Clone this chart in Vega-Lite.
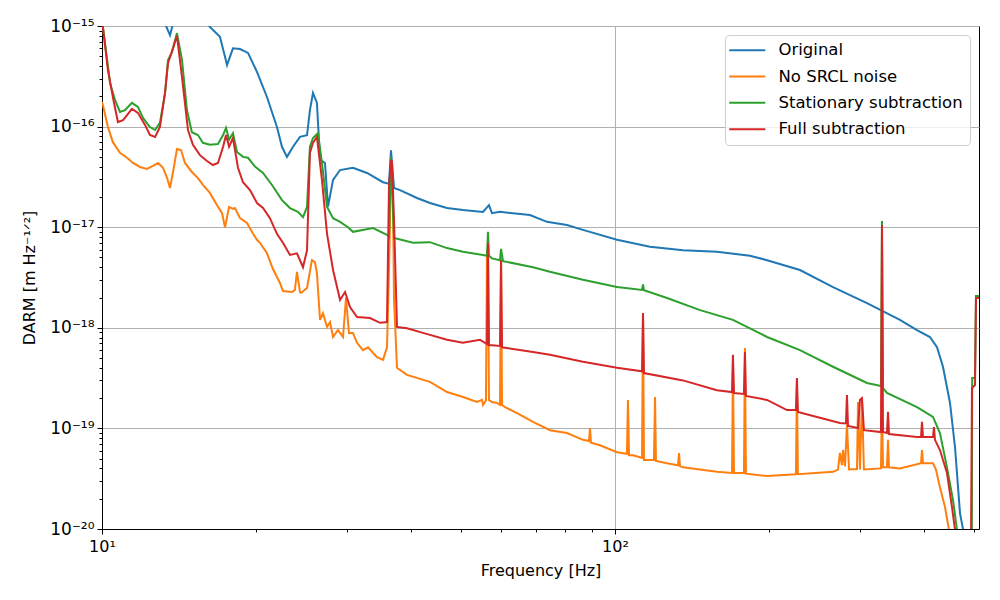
{
  "$schema": "https://vega.github.io/schema/vega-lite/v6.json",
  "width": 877,
  "height": 503,
  "autosize": "none",
  "padding": {"left": 102, "top": 26, "right": 21, "bottom": 71},
  "data": {
    "values": [
      {"series": "Original", "freq": 10.0, "asd": 2.5e-15},
      {"series": "Original", "freq": 11.86, "asd": 1.8e-15},
      {"series": "Original", "freq": 12.97, "asd": 1.2e-15},
      {"series": "Original", "freq": 13.33, "asd": 1.0e-15},
      {"series": "Original", "freq": 13.57, "asd": 8.1e-16},
      {"series": "Original", "freq": 13.75, "asd": 1.05e-15},
      {"series": "Original", "freq": 14.19, "asd": 1.4e-15},
      {"series": "Original", "freq": 15.52, "asd": 1.5e-15},
      {"series": "Original", "freq": 16.16, "asd": 1.0e-15},
      {"series": "Original", "freq": 16.98, "asd": 7.8e-16},
      {"series": "Original", "freq": 17.53, "asd": 4.1e-16},
      {"series": "Original", "freq": 18.0, "asd": 6.0e-16},
      {"series": "Original", "freq": 18.58, "asd": 5.9e-16},
      {"series": "Original", "freq": 19.26, "asd": 5.4e-16},
      {"series": "Original", "freq": 20.05, "asd": 3.5e-16},
      {"series": "Original", "freq": 20.97, "asd": 1.97e-16},
      {"series": "Original", "freq": 21.93, "asd": 9.9e-17},
      {"series": "Original", "freq": 22.43, "asd": 6.3e-17},
      {"series": "Original", "freq": 22.94, "asd": 5.0e-17},
      {"series": "Original", "freq": 23.57, "asd": 6.3e-17},
      {"series": "Original", "freq": 24.32, "asd": 7.9e-17},
      {"series": "Original", "freq": 25.1, "asd": 8.2e-17},
      {"series": "Original", "freq": 25.43, "asd": 1.46e-16},
      {"series": "Original", "freq": 25.78, "asd": 2.16e-16},
      {"series": "Original", "freq": 26.24, "asd": 1.72e-16},
      {"series": "Original", "freq": 26.61, "asd": 4.7e-17},
      {"series": "Original", "freq": 27.21, "asd": 4.35e-17},
      {"series": "Original", "freq": 27.58, "asd": 1.6e-17},
      {"series": "Original", "freq": 28.21, "asd": 2.95e-17},
      {"series": "Original", "freq": 29.11, "asd": 3.7e-17},
      {"series": "Original", "freq": 30.85, "asd": 3.9e-17},
      {"series": "Original", "freq": 32.86, "asd": 3.46e-17},
      {"series": "Original", "freq": 35.3, "asd": 2.8e-17},
      {"series": "Original", "freq": 36.26, "asd": 2.7e-17},
      {"series": "Original", "freq": 36.59, "asd": 5.8e-17},
      {"series": "Original", "freq": 37.09, "asd": 2.45e-17},
      {"series": "Original", "freq": 38.1, "asd": 2.34e-17},
      {"series": "Original", "freq": 41.11, "asd": 1.95e-17},
      {"series": "Original", "freq": 43.58, "asd": 1.74e-17},
      {"series": "Original", "freq": 47.05, "asd": 1.55e-17},
      {"series": "Original", "freq": 50.54, "asd": 1.48e-17},
      {"series": "Original", "freq": 55.3, "asd": 1.42e-17},
      {"series": "Original", "freq": 56.8, "asd": 1.66e-17},
      {"series": "Original", "freq": 57.57, "asd": 1.38e-17},
      {"series": "Original", "freq": 59.69, "asd": 1.42e-17},
      {"series": "Original", "freq": 68.29, "asd": 1.32e-17},
      {"series": "Original", "freq": 73.68, "asd": 1.13e-17},
      {"series": "Original", "freq": 80.62, "asd": 1.05e-17},
      {"series": "Original", "freq": 86.61, "asd": 9.4e-18},
      {"series": "Original", "freq": 100.9, "asd": 7.5e-18},
      {"series": "Original", "freq": 117.0, "asd": 6.4e-18},
      {"series": "Original", "freq": 135.7, "asd": 5.9e-18},
      {"series": "Original", "freq": 158.0, "asd": 5.7e-18},
      {"series": "Original", "freq": 183.3, "asd": 5.2e-18},
      {"series": "Original", "freq": 197.9, "asd": 4.7e-18},
      {"series": "Original", "freq": 229.4, "asd": 3.75e-18},
      {"series": "Original", "freq": 266.1, "asd": 2.54e-18},
      {"series": "Original", "freq": 309.9, "asd": 1.76e-18},
      {"series": "Original", "freq": 359.3, "asd": 1.2e-18},
      {"series": "Original", "freq": 387.9, "asd": 9.5e-19},
      {"series": "Original", "freq": 411.1, "asd": 8.1e-19},
      {"series": "Original", "freq": 424.4, "asd": 6.4e-19},
      {"series": "Original", "freq": 435.9, "asd": 4.1e-19},
      {"series": "Original", "freq": 449.8, "asd": 1.8e-19},
      {"series": "Original", "freq": 460.1, "asd": 6.5e-20},
      {"series": "Original", "freq": 470.5, "asd": 1.44e-20},
      {"series": "Original", "freq": 481.2, "asd": 7.8e-21},

      {"series": "No SRCL noise", "freq": 10.0, "asd": 1.76e-16},
      {"series": "No SRCL noise", "freq": 10.04, "asd": 1.64e-16},
      {"series": "No SRCL noise", "freq": 10.27, "asd": 9.9e-17},
      {"series": "No SRCL noise", "freq": 10.5, "asd": 7.0e-17},
      {"series": "No SRCL noise", "freq": 10.84, "asd": 5.5e-17},
      {"series": "No SRCL noise", "freq": 11.19, "asd": 4.9e-17},
      {"series": "No SRCL noise", "freq": 11.49, "asd": 4.35e-17},
      {"series": "No SRCL noise", "freq": 11.86, "asd": 3.97e-17},
      {"series": "No SRCL noise", "freq": 12.24, "asd": 3.8e-17},
      {"series": "No SRCL noise", "freq": 12.57, "asd": 4.06e-17},
      {"series": "No SRCL noise", "freq": 12.86, "asd": 4.35e-17},
      {"series": "No SRCL noise", "freq": 13.15, "asd": 3.9e-17},
      {"series": "No SRCL noise", "freq": 13.39, "asd": 3.1e-17},
      {"series": "No SRCL noise", "freq": 13.57, "asd": 2.45e-17},
      {"series": "No SRCL noise", "freq": 13.81, "asd": 3.97e-17},
      {"series": "No SRCL noise", "freq": 14.0, "asd": 6.0e-17},
      {"series": "No SRCL noise", "freq": 14.26, "asd": 5.85e-17},
      {"series": "No SRCL noise", "freq": 14.51, "asd": 4.35e-17},
      {"series": "No SRCL noise", "freq": 14.97, "asd": 3.54e-17},
      {"series": "No SRCL noise", "freq": 15.38, "asd": 3.08e-17},
      {"series": "No SRCL noise", "freq": 15.73, "asd": 2.63e-17},
      {"series": "No SRCL noise", "freq": 16.23, "asd": 2.19e-17},
      {"series": "No SRCL noise", "freq": 16.75, "asd": 1.66e-17},
      {"series": "No SRCL noise", "freq": 17.14, "asd": 1.38e-17},
      {"series": "No SRCL noise", "freq": 17.37, "asd": 1.0e-17},
      {"series": "No SRCL noise", "freq": 17.69, "asd": 1.59e-17},
      {"series": "No SRCL noise", "freq": 18.0, "asd": 1.52e-17},
      {"series": "No SRCL noise", "freq": 18.16, "asd": 1.55e-17},
      {"series": "No SRCL noise", "freq": 18.58, "asd": 1.23e-17},
      {"series": "No SRCL noise", "freq": 19.17, "asd": 1.1e-17},
      {"series": "No SRCL noise", "freq": 19.7, "asd": 8.6e-18},
      {"series": "No SRCL noise", "freq": 20.05, "asd": 7.5e-18},
      {"series": "No SRCL noise", "freq": 20.32, "asd": 7.0e-18},
      {"series": "No SRCL noise", "freq": 20.97, "asd": 5.5e-18},
      {"series": "No SRCL noise", "freq": 21.54, "asd": 3.84e-18},
      {"series": "No SRCL noise", "freq": 22.23, "asd": 2.79e-18},
      {"series": "No SRCL noise", "freq": 22.53, "asd": 2.32e-18},
      {"series": "No SRCL noise", "freq": 23.46, "asd": 2.27e-18},
      {"series": "No SRCL noise", "freq": 23.77, "asd": 2.38e-18},
      {"series": "No SRCL noise", "freq": 23.99, "asd": 3.6e-18},
      {"series": "No SRCL noise", "freq": 24.32, "asd": 2.27e-18},
      {"series": "No SRCL noise", "freq": 24.43, "asd": 2.22e-18},
      {"series": "No SRCL noise", "freq": 25.1, "asd": 2.49e-18},
      {"series": "No SRCL noise", "freq": 25.66, "asd": 4.7e-18},
      {"series": "No SRCL noise", "freq": 26.01, "asd": 4.5e-18},
      {"series": "No SRCL noise", "freq": 26.24, "asd": 3.5e-18},
      {"series": "No SRCL noise", "freq": 26.61, "asd": 1.2e-18},
      {"series": "No SRCL noise", "freq": 26.96, "asd": 1.4e-18},
      {"series": "No SRCL noise", "freq": 27.46, "asd": 1.02e-18},
      {"series": "No SRCL noise", "freq": 27.83, "asd": 1.14e-18},
      {"series": "No SRCL noise", "freq": 28.21, "asd": 8.1e-19},
      {"series": "No SRCL noise", "freq": 28.84, "asd": 9.5e-19},
      {"series": "No SRCL noise", "freq": 29.5, "asd": 8.1e-19},
      {"series": "No SRCL noise", "freq": 29.9, "asd": 1.98e-18},
      {"series": "No SRCL noise", "freq": 30.3, "asd": 8.9e-19},
      {"series": "No SRCL noise", "freq": 30.85, "asd": 8.9e-19},
      {"series": "No SRCL noise", "freq": 31.41, "asd": 7.1e-19},
      {"series": "No SRCL noise", "freq": 32.27, "asd": 6.0e-19},
      {"series": "No SRCL noise", "freq": 33.0, "asd": 6.4e-19},
      {"series": "No SRCL noise", "freq": 34.36, "asd": 5.1e-19},
      {"series": "No SRCL noise", "freq": 35.3, "asd": 4.8e-19},
      {"series": "No SRCL noise", "freq": 35.94, "asd": 6.4e-19},
      {"series": "No SRCL noise", "freq": 36.26, "asd": 3.75e-18},
      {"series": "No SRCL noise", "freq": 36.59, "asd": 3.7e-17},
      {"series": "No SRCL noise", "freq": 36.92, "asd": 1.86e-17},
      {"series": "No SRCL noise", "freq": 37.09, "asd": 1.9e-18},
      {"series": "No SRCL noise", "freq": 37.59, "asd": 4.0e-19},
      {"series": "No SRCL noise", "freq": 39.31, "asd": 3.4e-19},
      {"series": "No SRCL noise", "freq": 43.58, "asd": 2.9e-19},
      {"series": "No SRCL noise", "freq": 47.05, "asd": 2.3e-19},
      {"series": "No SRCL noise", "freq": 50.54, "asd": 2.05e-19},
      {"series": "No SRCL noise", "freq": 53.83, "asd": 1.83e-19},
      {"series": "No SRCL noise", "freq": 55.05, "asd": 1.92e-19},
      {"series": "No SRCL noise", "freq": 55.3, "asd": 1.71e-19},
      {"series": "No SRCL noise", "freq": 56.04, "asd": 1.9e-19},
      {"series": "No SRCL noise", "freq": 56.3, "asd": 5.9e-18},
      {"series": "No SRCL noise", "freq": 56.55, "asd": 5.3e-18},
      {"series": "No SRCL noise", "freq": 56.8, "asd": 1.92e-19},
      {"series": "No SRCL noise", "freq": 57.57, "asd": 1.83e-19},
      {"series": "No SRCL noise", "freq": 58.88, "asd": 1.79e-19},
      {"series": "No SRCL noise", "freq": 59.69, "asd": 1.71e-19},
      {"series": "No SRCL noise", "freq": 59.96, "asd": 4.9e-18},
      {"series": "No SRCL noise", "freq": 60.23, "asd": 1.71e-19},
      {"series": "No SRCL noise", "freq": 61.04, "asd": 1.63e-19},
      {"series": "No SRCL noise", "freq": 64.42, "asd": 1.42e-19},
      {"series": "No SRCL noise", "freq": 69.21, "asd": 1.16e-19},
      {"series": "No SRCL noise", "freq": 74.68, "asd": 9.6e-20},
      {"series": "No SRCL noise", "freq": 80.62, "asd": 9.0e-20},
      {"series": "No SRCL noise", "freq": 86.61, "asd": 7.7e-20},
      {"series": "No SRCL noise", "freq": 88.99, "asd": 7.5e-20},
      {"series": "No SRCL noise", "freq": 89.39, "asd": 1.01e-19},
      {"series": "No SRCL noise", "freq": 89.79, "asd": 7.2e-20},
      {"series": "No SRCL noise", "freq": 93.49, "asd": 6.8e-20},
      {"series": "No SRCL noise", "freq": 100.9, "asd": 5.8e-20},
      {"series": "No SRCL noise", "freq": 105.5, "asd": 5.6e-20},
      {"series": "No SRCL noise", "freq": 106.0, "asd": 1.92e-19},
      {"series": "No SRCL noise", "freq": 106.5, "asd": 5.4e-20},
      {"series": "No SRCL noise", "freq": 108.4, "asd": 5.4e-20},
      {"series": "No SRCL noise", "freq": 112.9, "asd": 5.1e-20},
      {"series": "No SRCL noise", "freq": 113.4, "asd": 1.3e-18},
      {"series": "No SRCL noise", "freq": 113.9, "asd": 4.85e-20},
      {"series": "No SRCL noise", "freq": 119.1, "asd": 4.85e-20},
      {"series": "No SRCL noise", "freq": 119.7, "asd": 2.05e-19},
      {"series": "No SRCL noise", "freq": 120.2, "asd": 4.75e-20},
      {"series": "No SRCL noise", "freq": 126.3, "asd": 4.5e-20},
      {"series": "No SRCL noise", "freq": 132.7, "asd": 4.3e-20},
      {"series": "No SRCL noise", "freq": 133.3, "asd": 5.7e-20},
      {"series": "No SRCL noise", "freq": 133.9, "asd": 4.2e-20},
      {"series": "No SRCL noise", "freq": 135.7, "asd": 4.1e-20},
      {"series": "No SRCL noise", "freq": 158.0, "asd": 3.7e-20},
      {"series": "No SRCL noise", "freq": 169.1, "asd": 3.6e-20},
      {"series": "No SRCL noise", "freq": 169.8, "asd": 4.6e-19},
      {"series": "No SRCL noise", "freq": 170.6, "asd": 3.6e-20},
      {"series": "No SRCL noise", "freq": 178.4, "asd": 3.6e-20},
      {"series": "No SRCL noise", "freq": 179.2, "asd": 6.3e-19},
      {"series": "No SRCL noise", "freq": 180.0, "asd": 3.55e-20},
      {"series": "No SRCL noise", "freq": 197.9, "asd": 3.36e-20},
      {"series": "No SRCL noise", "freq": 225.3, "asd": 3.5e-20},
      {"series": "No SRCL noise", "freq": 226.3, "asd": 2.7e-19},
      {"series": "No SRCL noise", "freq": 227.3, "asd": 3.5e-20},
      {"series": "No SRCL noise", "freq": 266.1, "asd": 3.7e-20},
      {"series": "No SRCL noise", "freq": 272.1, "asd": 3.9e-20},
      {"series": "No SRCL noise", "freq": 274.5, "asd": 5.7e-20},
      {"series": "No SRCL noise", "freq": 277.0, "asd": 4.3e-20},
      {"series": "No SRCL noise", "freq": 278.3, "asd": 6.1e-20},
      {"series": "No SRCL noise", "freq": 280.8, "asd": 4.2e-20},
      {"series": "No SRCL noise", "freq": 283.3, "asd": 1.08e-19},
      {"series": "No SRCL noise", "freq": 285.9, "asd": 3.9e-20},
      {"series": "No SRCL noise", "freq": 296.3, "asd": 3.95e-20},
      {"series": "No SRCL noise", "freq": 297.7, "asd": 1.83e-19},
      {"series": "No SRCL noise", "freq": 300.3, "asd": 3.9e-20},
      {"series": "No SRCL noise", "freq": 303.0, "asd": 1.92e-19},
      {"series": "No SRCL noise", "freq": 305.7, "asd": 3.9e-20},
      {"series": "No SRCL noise", "freq": 330.0, "asd": 4.0e-20},
      {"series": "No SRCL noise", "freq": 331.5, "asd": 1.9e-19},
      {"series": "No SRCL noise", "freq": 333.0, "asd": 4.1e-20},
      {"series": "No SRCL noise", "freq": 339.0, "asd": 4.1e-20},
      {"series": "No SRCL noise", "freq": 340.6, "asd": 7.7e-20},
      {"series": "No SRCL noise", "freq": 342.1, "asd": 4.1e-20},
      {"series": "No SRCL noise", "freq": 359.3, "asd": 4.0e-20},
      {"series": "No SRCL noise", "freq": 395.0, "asd": 4.5e-20},
      {"series": "No SRCL noise", "freq": 396.7, "asd": 6.1e-20},
      {"series": "No SRCL noise", "freq": 398.5, "asd": 4.5e-20},
      {"series": "No SRCL noise", "freq": 416.8, "asd": 4.5e-20},
      {"series": "No SRCL noise", "freq": 422.4, "asd": 3.9e-20},
      {"series": "No SRCL noise", "freq": 430.0, "asd": 2.6e-20},
      {"series": "No SRCL noise", "freq": 439.9, "asd": 1.65e-20},
      {"series": "No SRCL noise", "freq": 447.8, "asd": 9.8e-21},
      {"series": "No SRCL noise", "freq": 453.9, "asd": 6e-21},

      {"series": "Stationary subtraction", "freq": 10.0, "asd": 1.1e-15},
      {"series": "Stationary subtraction", "freq": 10.04, "asd": 9.8e-16},
      {"series": "Stationary subtraction", "freq": 10.37, "asd": 2.7e-16},
      {"series": "Stationary subtraction", "freq": 10.6, "asd": 1.84e-16},
      {"series": "Stationary subtraction", "freq": 10.84, "asd": 1.4e-16},
      {"series": "Stationary subtraction", "freq": 11.09, "asd": 1.46e-16},
      {"series": "Stationary subtraction", "freq": 11.44, "asd": 1.72e-16},
      {"series": "Stationary subtraction", "freq": 11.75, "asd": 1.57e-16},
      {"series": "Stationary subtraction", "freq": 12.02, "asd": 1.22e-16},
      {"series": "Stationary subtraction", "freq": 12.4, "asd": 9.9e-17},
      {"series": "Stationary subtraction", "freq": 12.69, "asd": 9.25e-17},
      {"series": "Stationary subtraction", "freq": 12.97, "asd": 1.09e-16},
      {"series": "Stationary subtraction", "freq": 13.27, "asd": 2.16e-16},
      {"series": "Stationary subtraction", "freq": 13.45, "asd": 4.6e-16},
      {"series": "Stationary subtraction", "freq": 13.69, "asd": 5.5e-16},
      {"series": "Stationary subtraction", "freq": 14.0, "asd": 8.5e-16},
      {"series": "Stationary subtraction", "freq": 14.32, "asd": 4.6e-16},
      {"series": "Stationary subtraction", "freq": 14.64, "asd": 1.46e-16},
      {"series": "Stationary subtraction", "freq": 14.97, "asd": 8.8e-17},
      {"series": "Stationary subtraction", "freq": 15.38, "asd": 8.25e-17},
      {"series": "Stationary subtraction", "freq": 15.73, "asd": 6.9e-17},
      {"series": "Stationary subtraction", "freq": 16.23, "asd": 6.6e-17},
      {"series": "Stationary subtraction", "freq": 16.83, "asd": 6.7e-17},
      {"series": "Stationary subtraction", "freq": 17.22, "asd": 8.25e-17},
      {"series": "Stationary subtraction", "freq": 17.45, "asd": 9.7e-17},
      {"series": "Stationary subtraction", "freq": 17.69, "asd": 7.4e-17},
      {"series": "Stationary subtraction", "freq": 18.0, "asd": 8.6e-17},
      {"series": "Stationary subtraction", "freq": 18.33, "asd": 5.6e-17},
      {"series": "Stationary subtraction", "freq": 18.83, "asd": 5.0e-17},
      {"series": "Stationary subtraction", "freq": 19.26, "asd": 4.9e-17},
      {"series": "Stationary subtraction", "freq": 19.87, "asd": 4.0e-17},
      {"series": "Stationary subtraction", "freq": 20.6, "asd": 3.46e-17},
      {"series": "Stationary subtraction", "freq": 21.45, "asd": 2.63e-17},
      {"series": "Stationary subtraction", "freq": 22.43, "asd": 1.86e-17},
      {"series": "Stationary subtraction", "freq": 23.25, "asd": 1.55e-17},
      {"series": "Stationary subtraction", "freq": 24.1, "asd": 1.42e-17},
      {"series": "Stationary subtraction", "freq": 24.65, "asd": 1.26e-17},
      {"series": "Stationary subtraction", "freq": 25.1, "asd": 1.59e-17},
      {"series": "Stationary subtraction", "freq": 25.43, "asd": 6.3e-17},
      {"series": "Stationary subtraction", "freq": 25.78, "asd": 7.7e-17},
      {"series": "Stationary subtraction", "freq": 26.36, "asd": 8.6e-17},
      {"series": "Stationary subtraction", "freq": 26.84, "asd": 4.35e-17},
      {"series": "Stationary subtraction", "freq": 27.46, "asd": 1.59e-17},
      {"series": "Stationary subtraction", "freq": 28.21, "asd": 1.23e-17},
      {"series": "Stationary subtraction", "freq": 29.11, "asd": 1.13e-17},
      {"series": "Stationary subtraction", "freq": 30.17, "asd": 1.0e-17},
      {"series": "Stationary subtraction", "freq": 30.85, "asd": 9.0e-18},
      {"series": "Stationary subtraction", "freq": 33.75, "asd": 9.8e-18},
      {"series": "Stationary subtraction", "freq": 35.94, "asd": 8.4e-18},
      {"series": "Stationary subtraction", "freq": 36.26, "asd": 8.0e-18},
      {"series": "Stationary subtraction", "freq": 36.59, "asd": 5.0e-17},
      {"series": "Stationary subtraction", "freq": 37.09, "asd": 7.8e-18},
      {"series": "Stationary subtraction", "freq": 40.39, "asd": 7.0e-18},
      {"series": "Stationary subtraction", "freq": 43.58, "asd": 7.1e-18},
      {"series": "Stationary subtraction", "freq": 47.05, "asd": 6.2e-18},
      {"series": "Stationary subtraction", "freq": 50.54, "asd": 5.7e-18},
      {"series": "Stationary subtraction", "freq": 55.3, "asd": 5.3e-18},
      {"series": "Stationary subtraction", "freq": 56.3, "asd": 5.2e-18},
      {"series": "Stationary subtraction", "freq": 56.55, "asd": 9.0e-18},
      {"series": "Stationary subtraction", "freq": 56.8, "asd": 5.2e-18},
      {"series": "Stationary subtraction", "freq": 57.57, "asd": 4.9e-18},
      {"series": "Stationary subtraction", "freq": 59.69, "asd": 4.7e-18},
      {"series": "Stationary subtraction", "freq": 59.96, "asd": 6.1e-18},
      {"series": "Stationary subtraction", "freq": 60.5, "asd": 4.6e-18},
      {"series": "Stationary subtraction", "freq": 69.21, "asd": 4.0e-18},
      {"series": "Stationary subtraction", "freq": 74.68, "asd": 3.6e-18},
      {"series": "Stationary subtraction", "freq": 86.61, "asd": 3.0e-18},
      {"series": "Stationary subtraction", "freq": 100.9, "asd": 2.54e-18},
      {"series": "Stationary subtraction", "freq": 112.9, "asd": 2.38e-18},
      {"series": "Stationary subtraction", "freq": 113.4, "asd": 2.7e-18},
      {"series": "Stationary subtraction", "freq": 113.9, "asd": 2.36e-18},
      {"series": "Stationary subtraction", "freq": 126.3, "asd": 1.98e-18},
      {"series": "Stationary subtraction", "freq": 146.5, "asd": 1.5e-18},
      {"series": "Stationary subtraction", "freq": 169.8, "asd": 1.2e-18},
      {"series": "Stationary subtraction", "freq": 197.9, "asd": 8.1e-19},
      {"series": "Stationary subtraction", "freq": 229.4, "asd": 6.0e-19},
      {"series": "Stationary subtraction", "freq": 266.1, "asd": 4.1e-19},
      {"series": "Stationary subtraction", "freq": 309.9, "asd": 2.83e-19},
      {"series": "Stationary subtraction", "freq": 330.0, "asd": 2.64e-19},
      {"series": "Stationary subtraction", "freq": 331.5, "asd": 1.15e-17},
      {"series": "Stationary subtraction", "freq": 333.0, "asd": 2.52e-19},
      {"series": "Stationary subtraction", "freq": 339.0, "asd": 2.25e-19},
      {"series": "Stationary subtraction", "freq": 387.9, "asd": 1.63e-19},
      {"series": "Stationary subtraction", "freq": 416.8, "asd": 1.3e-19},
      {"series": "Stationary subtraction", "freq": 430.0, "asd": 9.0e-20},
      {"series": "Stationary subtraction", "freq": 443.8, "asd": 4.1e-20},
      {"series": "Stationary subtraction", "freq": 456.0, "asd": 1.94e-20},
      {"series": "Stationary subtraction", "freq": 464.2, "asd": 9.8e-21},
      {"series": "Stationary subtraction", "freq": 470.5, "asd": 7e-21},
      {"series": "Stationary subtraction", "freq": 496.0, "asd": 6e-21},
      {"series": "Stationary subtraction", "freq": 497.0, "asd": 3.17e-19},
      {"series": "Stationary subtraction", "freq": 503.3, "asd": 3.17e-19},
      {"series": "Stationary subtraction", "freq": 505.5, "asd": 2.07e-18},
      {"series": "Stationary subtraction", "freq": 512.4, "asd": 2.07e-18},

      {"series": "Full subtraction", "freq": 10.0, "asd": 1.1e-15},
      {"series": "Full subtraction", "freq": 10.04, "asd": 9.8e-16},
      {"series": "Full subtraction", "freq": 10.27, "asd": 3.65e-16},
      {"series": "Full subtraction", "freq": 10.5, "asd": 1.97e-16},
      {"series": "Full subtraction", "freq": 10.74, "asd": 1.11e-16},
      {"series": "Full subtraction", "freq": 10.99, "asd": 1.16e-16},
      {"series": "Full subtraction", "freq": 11.44, "asd": 1.5e-16},
      {"series": "Full subtraction", "freq": 11.75, "asd": 1.37e-16},
      {"series": "Full subtraction", "freq": 12.13, "asd": 1.04e-16},
      {"series": "Full subtraction", "freq": 12.4, "asd": 8.25e-17},
      {"series": "Full subtraction", "freq": 12.69, "asd": 7.9e-17},
      {"series": "Full subtraction", "freq": 12.97, "asd": 9.9e-17},
      {"series": "Full subtraction", "freq": 13.27, "asd": 2.16e-16},
      {"series": "Full subtraction", "freq": 13.45, "asd": 4.3e-16},
      {"series": "Full subtraction", "freq": 13.75, "asd": 6.0e-16},
      {"series": "Full subtraction", "freq": 14.0, "asd": 8.0e-16},
      {"series": "Full subtraction", "freq": 14.32, "asd": 3.1e-16},
      {"series": "Full subtraction", "freq": 14.71, "asd": 9.25e-17},
      {"series": "Full subtraction", "freq": 15.04, "asd": 6.6e-17},
      {"series": "Full subtraction", "freq": 15.52, "asd": 5.2e-17},
      {"series": "Full subtraction", "freq": 16.02, "asd": 4.55e-17},
      {"series": "Full subtraction", "freq": 16.45, "asd": 4.15e-17},
      {"series": "Full subtraction", "freq": 16.83, "asd": 4.35e-17},
      {"series": "Full subtraction", "freq": 17.22, "asd": 6.3e-17},
      {"series": "Full subtraction", "freq": 17.45, "asd": 8.25e-17},
      {"series": "Full subtraction", "freq": 17.69, "asd": 6.3e-17},
      {"series": "Full subtraction", "freq": 18.0, "asd": 7.7e-17},
      {"series": "Full subtraction", "freq": 18.41, "asd": 3.9e-17},
      {"series": "Full subtraction", "freq": 18.83, "asd": 2.8e-17},
      {"series": "Full subtraction", "freq": 19.43, "asd": 2.34e-17},
      {"series": "Full subtraction", "freq": 20.05, "asd": 1.74e-17},
      {"series": "Full subtraction", "freq": 20.6, "asd": 1.55e-17},
      {"series": "Full subtraction", "freq": 21.25, "asd": 1.23e-17},
      {"series": "Full subtraction", "freq": 21.93, "asd": 8.6e-18},
      {"series": "Full subtraction", "freq": 22.53, "asd": 7.0e-18},
      {"series": "Full subtraction", "freq": 23.25, "asd": 5.3e-18},
      {"series": "Full subtraction", "freq": 23.99, "asd": 5.5e-18},
      {"series": "Full subtraction", "freq": 24.65, "asd": 4.0e-18},
      {"series": "Full subtraction", "freq": 25.1, "asd": 5.9e-18},
      {"series": "Full subtraction", "freq": 25.43, "asd": 5.5e-17},
      {"series": "Full subtraction", "freq": 25.78, "asd": 6.9e-17},
      {"series": "Full subtraction", "freq": 26.24, "asd": 7.9e-17},
      {"series": "Full subtraction", "freq": 26.84, "asd": 2.95e-17},
      {"series": "Full subtraction", "freq": 27.46, "asd": 8.6e-18},
      {"series": "Full subtraction", "freq": 28.21, "asd": 3.75e-18},
      {"series": "Full subtraction", "freq": 29.11, "asd": 1.89e-18},
      {"series": "Full subtraction", "freq": 29.77, "asd": 2.27e-18},
      {"series": "Full subtraction", "freq": 30.44, "asd": 1.61e-18},
      {"series": "Full subtraction", "freq": 31.41, "asd": 1.28e-18},
      {"series": "Full subtraction", "freq": 33.3, "asd": 1.25e-18},
      {"series": "Full subtraction", "freq": 34.83, "asd": 1.12e-18},
      {"series": "Full subtraction", "freq": 35.94, "asd": 1.14e-18},
      {"series": "Full subtraction", "freq": 36.26, "asd": 2.5e-17},
      {"series": "Full subtraction", "freq": 36.59, "asd": 4.7e-17},
      {"series": "Full subtraction", "freq": 36.75, "asd": 4.45e-17},
      {"series": "Full subtraction", "freq": 37.09, "asd": 1.18e-17},
      {"series": "Full subtraction", "freq": 37.59, "asd": 1.02e-18},
      {"series": "Full subtraction", "freq": 39.31, "asd": 9.9e-19},
      {"series": "Full subtraction", "freq": 42.23, "asd": 8.9e-19},
      {"series": "Full subtraction", "freq": 47.05, "asd": 7.6e-19},
      {"series": "Full subtraction", "freq": 50.54, "asd": 7.1e-19},
      {"series": "Full subtraction", "freq": 54.56, "asd": 7.6e-19},
      {"series": "Full subtraction", "freq": 56.3, "asd": 6.9e-19},
      {"series": "Full subtraction", "freq": 56.55, "asd": 7.0e-18},
      {"series": "Full subtraction", "freq": 56.8, "asd": 6.7e-19},
      {"series": "Full subtraction", "freq": 57.57, "asd": 6.7e-19},
      {"series": "Full subtraction", "freq": 59.69, "asd": 6.6e-19},
      {"series": "Full subtraction", "freq": 59.96, "asd": 4.7e-18},
      {"series": "Full subtraction", "freq": 60.23, "asd": 6.4e-19},
      {"series": "Full subtraction", "freq": 69.21, "asd": 5.75e-19},
      {"series": "Full subtraction", "freq": 74.68, "asd": 5.4e-19},
      {"series": "Full subtraction", "freq": 86.61, "asd": 4.6e-19},
      {"series": "Full subtraction", "freq": 100.9, "asd": 4.0e-19},
      {"series": "Full subtraction", "freq": 112.9, "asd": 3.7e-19},
      {"series": "Full subtraction", "freq": 113.4, "asd": 1.4e-18},
      {"series": "Full subtraction", "freq": 113.9, "asd": 3.55e-19},
      {"series": "Full subtraction", "freq": 135.7, "asd": 3.0e-19},
      {"series": "Full subtraction", "freq": 158.0, "asd": 2.4e-19},
      {"series": "Full subtraction", "freq": 169.1, "asd": 2.3e-19},
      {"series": "Full subtraction", "freq": 169.8, "asd": 5.4e-19},
      {"series": "Full subtraction", "freq": 170.6, "asd": 2.25e-19},
      {"series": "Full subtraction", "freq": 178.4, "asd": 2.2e-19},
      {"series": "Full subtraction", "freq": 179.2, "asd": 5.75e-19},
      {"series": "Full subtraction", "freq": 180.0, "asd": 2.1e-19},
      {"series": "Full subtraction", "freq": 197.9, "asd": 1.92e-19},
      {"series": "Full subtraction", "freq": 216.4, "asd": 1.52e-19},
      {"series": "Full subtraction", "freq": 225.3, "asd": 1.52e-19},
      {"series": "Full subtraction", "freq": 226.3, "asd": 3.17e-19},
      {"series": "Full subtraction", "freq": 227.3, "asd": 1.46e-19},
      {"series": "Full subtraction", "freq": 247.6, "asd": 1.3e-19},
      {"series": "Full subtraction", "freq": 274.5, "asd": 1.13e-19},
      {"series": "Full subtraction", "freq": 282.0, "asd": 1.12e-19},
      {"series": "Full subtraction", "freq": 283.3, "asd": 2.15e-19},
      {"series": "Full subtraction", "freq": 284.6, "asd": 1.06e-19},
      {"series": "Full subtraction", "freq": 297.7, "asd": 1.01e-19},
      {"series": "Full subtraction", "freq": 300.3, "asd": 1.92e-19},
      {"series": "Full subtraction", "freq": 303.0, "asd": 2.0e-19},
      {"series": "Full subtraction", "freq": 305.7, "asd": 9.6e-20},
      {"series": "Full subtraction", "freq": 330.0, "asd": 9.2e-20},
      {"series": "Full subtraction", "freq": 331.5, "asd": 1.05e-17},
      {"series": "Full subtraction", "freq": 333.0, "asd": 9.2e-20},
      {"series": "Full subtraction", "freq": 339.0, "asd": 9.0e-20},
      {"series": "Full subtraction", "freq": 340.6, "asd": 1.46e-19},
      {"series": "Full subtraction", "freq": 342.1, "asd": 8.8e-20},
      {"series": "Full subtraction", "freq": 387.9, "asd": 8.2e-20},
      {"series": "Full subtraction", "freq": 395.0, "asd": 8.2e-20},
      {"series": "Full subtraction", "freq": 396.7, "asd": 1.16e-19},
      {"series": "Full subtraction", "freq": 398.5, "asd": 8.2e-20},
      {"series": "Full subtraction", "freq": 416.8, "asd": 8.2e-20},
      {"series": "Full subtraction", "freq": 418.6, "asd": 1.03e-19},
      {"series": "Full subtraction", "freq": 420.5, "asd": 7.7e-20},
      {"series": "Full subtraction", "freq": 430.0, "asd": 6.1e-20},
      {"series": "Full subtraction", "freq": 443.8, "asd": 3.6e-20},
      {"series": "Full subtraction", "freq": 453.9, "asd": 1.65e-20},
      {"series": "Full subtraction", "freq": 460.1, "asd": 9.8e-21},
      {"series": "Full subtraction", "freq": 466.0, "asd": 6e-21},
      {"series": "Full subtraction", "freq": 494.3, "asd": 6e-21},
      {"series": "Full subtraction", "freq": 496.5, "asd": 2.52e-19},
      {"series": "Full subtraction", "freq": 503.3, "asd": 2.7e-19},
      {"series": "Full subtraction", "freq": 505.5, "asd": 1.98e-18},
      {"series": "Full subtraction", "freq": 512.4, "asd": 1.98e-18}
    ]
  },
  "mark": {"type": "line", "clip": true, "strokeWidth": 2},
  "encoding": {
    "x": {
      "field": "freq",
      "type": "quantitative",
      "title": "Frequency [Hz]",
      "scale": {"type": "log", "domain": [10, 512.4], "nice": false},
      "axis": {
        "values": [10, 20, 30, 40, 50, 60, 70, 80, 90, 100, 200, 300, 400, 500],
        "labelExpr": "datum.value == 10 ? '10¹' : datum.value == 100 ? '10²' : ''",
        "tickSize": {"condition": {"test": "datum.value == 10 || datum.value == 100", "value": 5}, "value": 3},
        "gridOpacity": {"condition": {"test": "datum.value == 10 || datum.value == 100", "value": 1}, "value": 0},
        "labelFlush": false,
        "labelPadding": 4,
        "titlePadding": 8
      }
    },
    "y": {
      "field": "asd",
      "type": "quantitative",
      "title": "DARM [m Hz⁻¹ᐟ²]",
      "scale": {"type": "log", "domain": [1e-20, 1e-15], "nice": false},
      "axis": {
        "values": [1e-20, 2e-20, 3e-20, 4e-20, 5e-20, 6e-20, 7e-20, 8e-20, 9e-20,
                   1e-19, 2e-19, 3e-19, 4e-19, 5e-19, 6e-19, 7e-19, 8e-19, 9e-19,
                   1e-18, 2e-18, 3e-18, 4e-18, 5e-18, 6e-18, 7e-18, 8e-18, 9e-18,
                   1e-17, 2e-17, 3e-17, 4e-17, 5e-17, 6e-17, 7e-17, 8e-17, 9e-17,
                   1e-16, 2e-16, 3e-16, 4e-16, 5e-16, 6e-16, 7e-16, 8e-16, 9e-16, 1e-15],
        "labelExpr": "datum.value == 1e-15 ? '10⁻¹⁵' : datum.value == 1e-16 ? '10⁻¹⁶' : datum.value == 1e-17 ? '10⁻¹⁷' : datum.value == 1e-18 ? '10⁻¹⁸' : datum.value == 1e-19 ? '10⁻¹⁹' : datum.value == 1e-20 ? '10⁻²⁰' : ''",
        "tickSize": {"condition": {"test": "indexof([1e-20, 1e-19, 1e-18, 1e-17, 1e-16, 1e-15], datum.value) >= 0", "value": 5}, "value": 3},
        "gridOpacity": {"condition": {"test": "indexof([1e-20, 1e-19, 1e-18, 1e-17, 1e-16, 1e-15], datum.value) >= 0", "value": 1}, "value": 0},
        "labelFlush": false,
        "labelFontSize": 17,
        "labelPadding": 3,
        "titlePadding": 12
      }
    },
    "color": {
      "field": "series",
      "type": "nominal",
      "sort": null,
      "scale": {
        "domain": ["Original", "No SRCL noise", "Stationary subtraction", "Full subtraction"],
        "range": ["#1f77b4", "#ff7f0e", "#2ca02c", "#d62728"]
      },
      "legend": {
        "title": null,
        "orient": "top-right",
        "offset": 9,
        "fillColor": "rgba(255,255,255,0.8)",
        "strokeColor": "#cccccc",
        "cornerRadius": 4,
        "padding": 7,
        "symbolType": "M-1.83,0H4.17",
        "symbolSize": 144,
        "symbolStrokeWidth": 2,
        "labelFontSize": 16.5,
        "labelOffset": 30,
        "labelLimit": 0,
        "rowPadding": 9.3
      }
    }
  },
  "config": {
    "font": "DejaVu Sans",
    "view": {"stroke": "black", "strokeWidth": 1},
    "axis": {
      "grid": true,
      "gridColor": "#b0b0b0",
      "gridWidth": 1,
      "domainColor": "black",
      "domainWidth": 1,
      "tickColor": "black",
      "labelFont": "DejaVu Sans",
      "labelFontSize": 16,
      "labelColor": "black",
      "titleFont": "DejaVu Sans",
      "titleFontSize": 16,
      "titleFontWeight": "normal",
      "titleColor": "black"
    },
    "legend": {"labelFont": "DejaVu Sans", "labelColor": "black"}
  }
}
